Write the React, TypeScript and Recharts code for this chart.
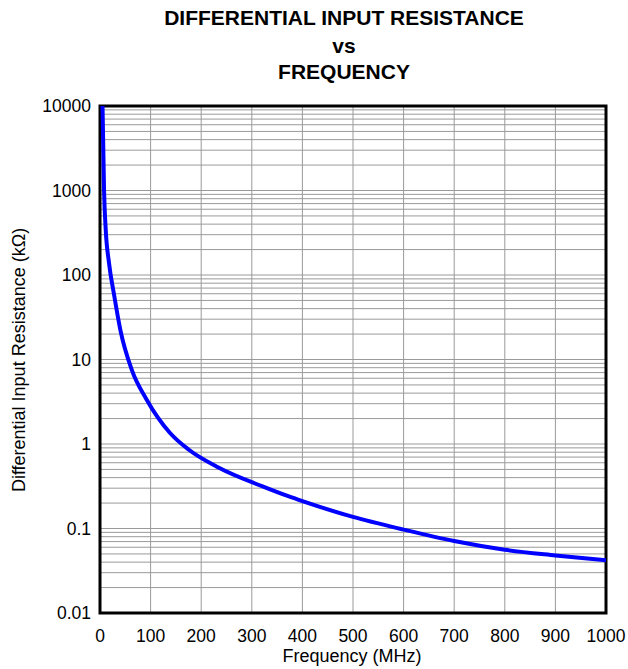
import React from 'react'
import { LineChart, Line, XAxis, YAxis, CartesianGrid, ReferenceArea } from 'recharts'

// ── Data ─────────────────────────────────────────────────────────────────────

const frequencyMHz = [5, 8, 11.3, 17.8, 28.3, 40.5, 62.6, 92, 138, 175, 234, 320, 372, 400, 500, 600, 700, 800, 900, 1000]
const resistanceKOhm = [10000, 1000, 345, 139, 56, 22, 7.6, 3.37, 1.36, 0.86, 0.527, 0.317, 0.241, 0.211, 0.137, 0.097, 0.071, 0.056, 0.048, 0.042]

const xTicks = [0, 100, 200, 300, 400, 500, 600, 700, 800, 900, 1000]
const yTicks = [0.01, 0.1, 1, 10, 100, 1000, 10000]
const minorSteps = [2, 3, 4, 5, 6, 7, 8, 9]

// ── Layout ───────────────────────────────────────────────────────────────────

const W = 628
const H = 669
const FONT = 'Arial, "Liberation Sans", sans-serif'

const data = frequencyMHz.map((f, i) => ({ f, r: resistanceKOhm[i] }))

// log grid: every decade plus 2..9 inside it
const gridValues = yTicks.flatMap((d, i) =>
  i < yTicks.length - 1 ? [d, ...minorSteps.map(m => +(d * m).toPrecision(3))] : [d]
)

export default function App() {
  return (
    <div style={styles.page}>
      <LineChart
        width={W}
        height={H}
        data={data}
        margin={{ top: 106, right: 22, bottom: 0, left: 40 }}
      >
        <CartesianGrid
          stroke="#9a9a9a"
          strokeWidth={1}
          horizontalValues={gridValues}
          verticalValues={xTicks}
        />
        <XAxis
          dataKey="f"
          type="number"
          domain={[0, 1000]}
          ticks={xTicks}
          allowDataOverflow
          height={56}
          tickLine={false}
          axisLine={false}
          tickSize={6}
          tickMargin={11}
          tick={{ fontSize: 17.5, fill: '#000', fontFamily: FONT }}
          interval={0}
        />
        <YAxis
          type="number"
          scale="log"
          domain={[0.01, 10000]}
          ticks={yTicks}
          allowDataOverflow
          width={60}
          tickLine={false}
          axisLine={false}
          tickSize={6}
          tickMargin={3}
          tickFormatter={(v: number) => String(v)}
          tick={{ fontSize: 17.5, fill: '#000', fontFamily: FONT }}
          interval={0}
        />
        <Line
          type="monotone"
          dataKey="r"
          stroke="#0000ff"
          strokeWidth={4}
          dot={false}
          isAnimationActive={false}
        />
        <ReferenceArea
          x1={0}
          x2={1000}
          y1={0.01}
          y2={10000}
          fill="none"
          fillOpacity={0}
          stroke="#000"
          strokeWidth={3}
          ifOverflow="visible"
        />
      </LineChart>

      <svg width={W} height={H} style={styles.overlay}>
        <g fontFamily={FONT} fontWeight="bold" fontSize={21} textAnchor="middle" fill="#000">
          <text x={344} y={25}>DIFFERENTIAL INPUT RESISTANCE</text>
          <text x={344} y={53}>vs</text>
          <text x={344} y={79}>FREQUENCY</text>
        </g>
        <text x={352} y={662} fontFamily={FONT} fontSize={18} textAnchor="middle" fill="#000">
          Frequency (MHz)
        </text>
        <text
          x={25}
          y={360}
          transform="rotate(-90 25 360)"
          fontFamily={FONT}
          fontSize={18}
          textAnchor="middle"
          fill="#000"
        >
          Differential Input Resistance (kΩ)
        </text>
      </svg>
    </div>
  )
}

const styles = {
  page: {
    position: 'absolute',
    left: 0,
    top: 0,
    width: W,
    height: H,
    background: '#fff',
    overflow: 'hidden',
  },
  overlay: { position: 'absolute', left: 0, top: 0, pointerEvents: 'none' },
} as const
